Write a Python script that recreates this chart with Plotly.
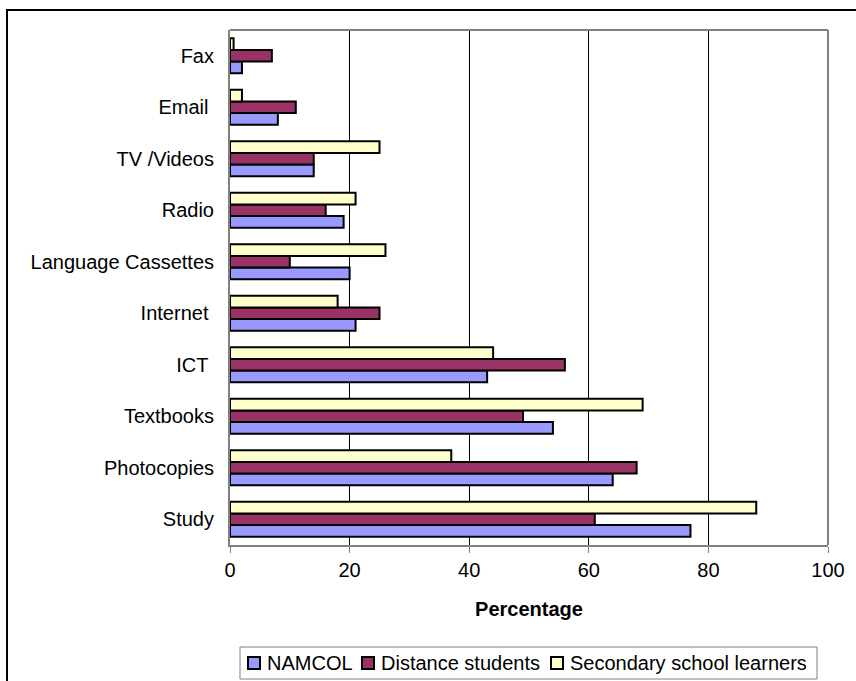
import plotly.graph_objects as go

# Media usage by learner group (percentage)
categories = ["Study", "Photocopies", "Textbooks", "ICT\u00a0", "Internet\u00a0",
              "Language Cassettes", "Radio", "TV /Videos", "Email\u00a0", "Fax"]
namcol = [77, 64, 54, 43, 21, 20, 19, 14, 8, 2]
distance = [61, 68, 49, 56, 25, 10, 16, 14, 11, 7]
secondary = [88, 37, 69, 44, 18, 26, 21, 25, 2, 0.6]

series_names = ["NAMCOL", "Distance students", "Secondary school learners"]
series_values = [namcol, distance, secondary]
series_colors = ["#9999FF", "#993366", "#FFFFCC"]

font_family = "Liberation Sans, Arial, sans-serif"

W, H = 856, 681
L, R, T, B = 230, 28, 30, 136
PW, PH = W - L - R, H - T - B


def px_x(x):
    return (x - L) / PW


def px_y(y):
    return (H - B - y) / PH


fig = go.Figure()
for name, vals, color in zip(series_names, series_values, series_colors):
    fig.add_trace(go.Bar(
        y=categories, x=vals, name=name, orientation="h",
        marker=dict(color=color, line=dict(color="black", width=2)),
    ))

shapes = [
    # plot area frame (top and right edges)
    dict(type="line", xref="paper", yref="paper", x0=0, x1=1, y0=1, y1=1,
         line=dict(color="#808080", width=2)),
    dict(type="line", xref="paper", yref="paper", x0=1, x1=1, y0=0, y1=1,
         line=dict(color="#808080", width=2)),
    # outer chart border
    dict(type="rect", xref="paper", yref="paper", x0=px_x(7), x1=px_x(900),
         y0=px_y(720), y1=px_y(10), line=dict(color="black", width=2)),
    # legend box
    dict(type="rect", xref="paper", yref="paper", x0=px_x(240), x1=px_x(817),
         y0=px_y(679), y1=px_y(647), line=dict(color="#808080", width=1),
         fillcolor="white"),
]
annotations = []

# legend entries: swatch left edge, text left edge
legend_pos = [(248, 265), (362, 379), (551, 568)]
for (sx, tx), name, color in zip(legend_pos, series_names, series_colors):
    shapes.append(dict(type="rect", xref="paper", yref="paper",
                       x0=px_x(sx), x1=px_x(sx + 12), y0=px_y(669), y1=px_y(657),
                       fillcolor=color, line=dict(color="black", width=2)))
    annotations.append(dict(xref="paper", yref="paper", x=px_x(tx), y=px_y(663),
                            text=name, showarrow=False, xanchor="left",
                            yanchor="middle", font=dict(size=20)))

fig.update_layout(
    width=W, height=H,
    margin=dict(l=L, r=R, t=T, b=B),
    paper_bgcolor="white", plot_bgcolor="white",
    barmode="group", bargap=0.32, bargroupgap=0,
    font=dict(family=font_family, size=20, color="black"),
    showlegend=False,
    xaxis=dict(
        range=[0, 100], dtick=20, showgrid=True, gridcolor="black", gridwidth=1,
        ticks="outside", ticklen=6, tickcolor="#808080",
        showline=True, linecolor="#808080", linewidth=2, zeroline=False,
        title=dict(text="<b>Percentage</b>", font=dict(size=20), standoff=22),
    ),
    yaxis=dict(
        showline=True, linecolor="#808080", linewidth=2, ticks="",
        ticklabelstandoff=10, showgrid=False,
    ),
    shapes=shapes,
    annotations=annotations,
)

fig.write_html("out.html")
